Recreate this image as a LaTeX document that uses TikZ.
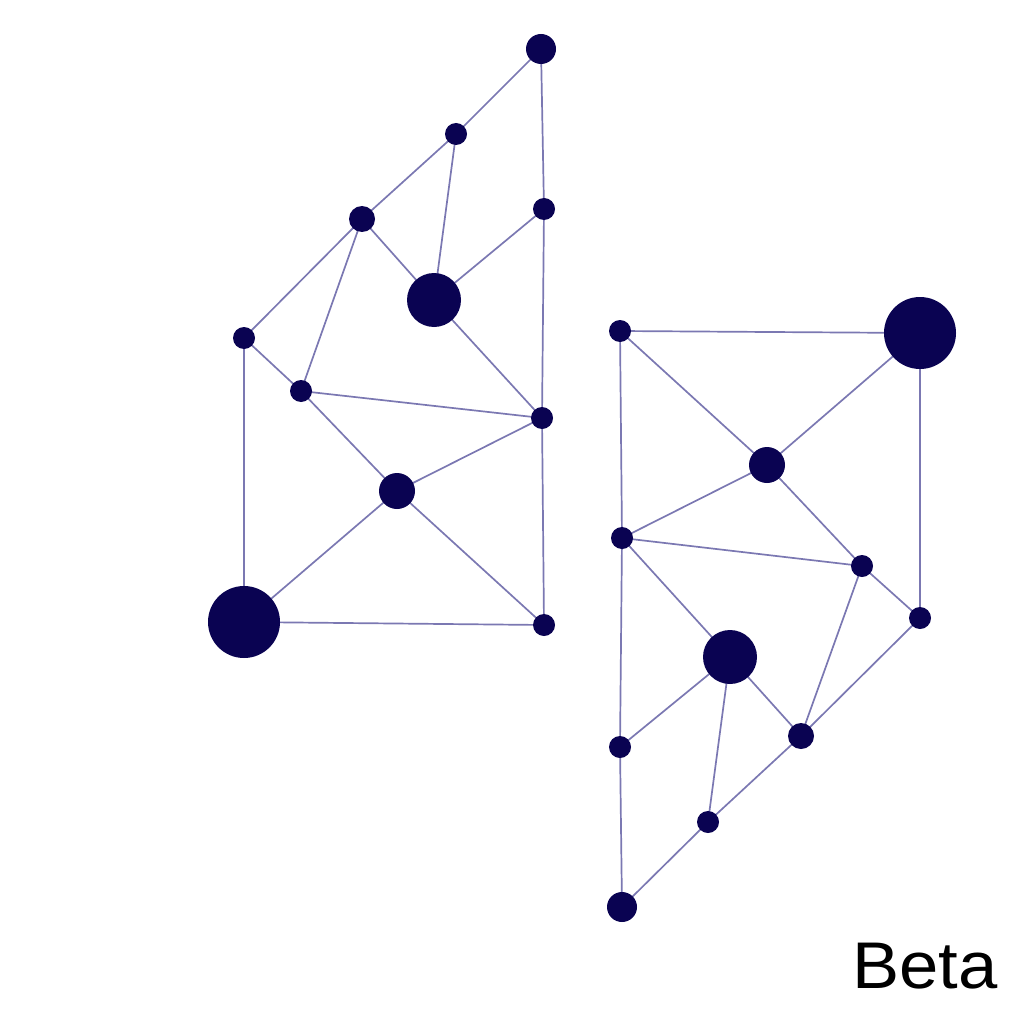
\documentclass[tikz,border=0pt]{standalone}
\usepackage{fontspec}
\setmainfont{Liberation Sans}
\usetikzlibrary{backgrounds}
\definecolor{navy}{HTML}{0A0352}
\definecolor{edgec}{HTML}{7B78B2}
\tikzset{
  dot/.style={circle, fill=navy, inner sep=0pt, minimum size=#1},
  edge/.style={draw=edgec, line width=1.7pt}
}
\begin{document}
\begin{tikzpicture}[x=1pt,y=-1pt]
\useasboundingbox (0,0) rectangle (1024,1024);
% left cluster
\node[dot=30] (a1) at (541,49) {};
\node[dot=22] (a2) at (456,134) {};
\node[dot=22] (a3) at (544,209) {};
\node[dot=26] (a4) at (362,219) {};
\node[dot=54] (a5) at (434,300) {};
\node[dot=22] (a6) at (244,338) {};
\node[dot=22] (a7) at (301,391) {};
\node[dot=22] (a8) at (542,418) {};
\node[dot=36] (a9) at (397,491) {};
\node[dot=72] (a10) at (244,622) {};
\node[dot=22] (a11) at (544,625) {};
% right cluster
\node[dot=22] (b1) at (620,331) {};
\node[dot=72] (b2) at (920,333) {};
\node[dot=36] (b3) at (767,465) {};
\node[dot=22] (b4) at (622,538) {};
\node[dot=22] (b5) at (862,566) {};
\node[dot=22] (b6) at (920,618) {};
\node[dot=54] (b7) at (730,657) {};
\node[dot=22] (b8) at (620,747) {};
\node[dot=26] (b9) at (801,736) {};
\node[dot=22] (b10) at (708,822) {};
\node[dot=30] (b11) at (622,907) {};
\begin{scope}[on background layer]
\foreach \u/\v in {a1/a2,a1/a3,a2/a4,a2/a5,a3/a5,a4/a6,a4/a5,a4/a7,a6/a7,a6/a10,a7/a8,a7/a9,a5/a8,a8/a9,a3/a8,a8/a11,a9/a10,a9/a11,a10/a11,
  b1/b2,b1/b3,b2/b3,b1/b4,b2/b6,b3/b4,b3/b5,b4/b5,b4/b7,b4/b8,b5/b6,b5/b9,b6/b9,b7/b8,b7/b9,b7/b10,b8/b11,b9/b10,b10/b11}
  \draw[edge] (\u.center) -- (\v.center);
\end{scope}
\node[anchor=base west, inner sep=0pt, font=\fontsize{66}{70}\selectfont] (beta) at (852,988) {\scalebox{1.07}[1]{Beta}};
\end{tikzpicture}
\end{document}
